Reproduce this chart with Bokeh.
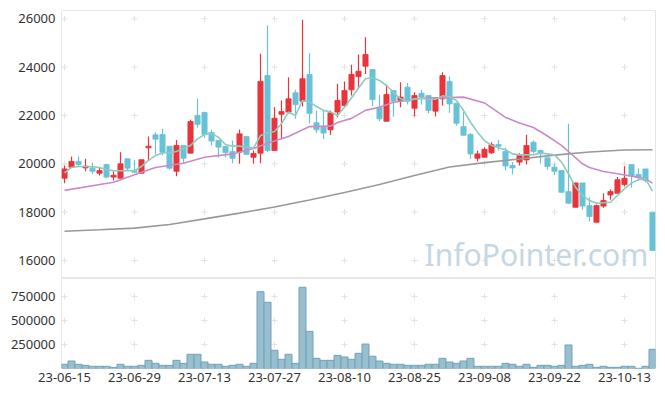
import numpy as np
from bokeh.plotting import figure
from bokeh.layouts import column
from bokeh.models import FixedTicker, NumeralTickFormatter, Label, Range1d
from bokeh.embed import file_html
from bokeh.resources import INLINE

# ---------------- data ----------------
opens = [19400, 19860, 20100, 19830, 19820, 19610, 19970, 19450, 19400, 20210,
         19720, 19610, 20660, 21200, 21210, 20730, 19690, 20760, 20440, 22000,
         22120, 21300, 20960, 20720, 20510, 20480, 21130, 20270, 20440, 23650,
         20550, 22050, 22140, 22940, 22590, 23700, 21700, 21510, 21410, 22140,
         22410, 23060, 23610, 24040, 23900, 22340, 21760, 23030, 22620, 23170,
         22300, 22920, 22830, 22180, 22690, 23410, 22510, 21540, 21210, 20230,
         20270, 20460, 20800, 20510, 19930, 20070, 20160, 20890, 20550, 20250,
         19860, 19720, 18850, 18200, 19210, 18270, 17580, 18250, 18710, 18780,
         19140, 19970, 19560, 19790, 18000]
highs = [19930, 20300, 20300, 20210, 20040, 19860, 20000, 19690, 20480, 20210,
         20170, 20170, 21130, 21310, 21450, 20730, 20990, 20760, 21820, 22690,
         22160, 21410, 20960, 20720, 20960, 21420, 21130, 20550, 24550, 25720,
         22340, 22620, 23580, 23060, 25960, 24580, 22210, 22210, 22210, 23310,
         23410, 24100, 24520, 25240, 23900, 22860, 23270, 23030, 23380, 23340,
         22960, 23060, 22830, 22690, 23790, 23610, 22510, 22140, 21270, 20550,
         20690, 20890, 20990, 20660, 20070, 20440, 21200, 20960, 20580, 20250,
         20000, 19720, 21660, 19220, 19210, 18620, 18320, 18780, 18940, 19450,
         19900, 19970, 19820, 19790, 18000]
lows = [19200, 19860, 19860, 19690, 19590, 19520, 19400, 19310, 19400, 19720,
        19610, 19600, 20140, 20390, 20340, 19750, 19490, 20000, 20440, 21490,
        21080, 20760, 20250, 20270, 20020, 20000, 20380, 20000, 20020, 20480,
        20550, 21030, 22140, 21860, 22370, 21680, 21280, 21030, 21200, 21930,
        22340, 22830, 23120, 23720, 22380, 21760, 21760, 21960, 22340, 22450,
        21960, 22450, 22090, 21960, 22410, 22110, 21580, 21180, 20210, 20100,
        20270, 20410, 20550, 19720, 19560, 19930, 19970, 20440, 20000, 19750,
        19540, 18820, 18340, 18200, 18100, 17620, 17580, 18180, 18510, 18780,
        19060, 19010, 19310, 19240, 16410]
closes = [19790, 20100, 19970, 19900, 19690, 19720, 19450, 19530, 20000, 19820,
          19650, 20170, 20730, 21020, 20480, 19820, 20760, 20230, 21750, 21630,
          21210, 20940, 20690, 20470, 20230, 21240, 20390, 20430, 23410, 20550,
          21890, 22160, 22690, 22450, 23520, 22090, 21410, 21270, 22110, 22620,
          23030, 23700, 23830, 24520, 22660, 21860, 22870, 22590, 22760, 22590,
          22830, 22760, 22210, 22690, 23650, 22480, 21680, 21180, 20410, 20410,
          20600, 20790, 20730, 19910, 19830, 20340, 20760, 20510, 20450, 19890,
          19690, 18820, 18370, 19210, 18250, 17820, 18270, 18480, 18850, 19340,
          19400, 19500, 19430, 19310, 16410]
volumes = [44000, 78000, 44000, 33000, 23000, 23000, 23000, 12000, 44000, 23000,
           23000, 33000, 85000, 54000, 33000, 33000, 85000, 54000, 148000, 148000,
           68000, 44000, 44000, 23000, 33000, 44000, 23000, 54000, 800000, 690000,
           190000, 96000, 148000, 54000, 846000, 387000, 106000, 85000, 85000, 137000,
           120000, 96000, 158000, 255000, 127000, 78000, 54000, 44000, 44000, 33000,
           33000, 33000, 44000, 44000, 106000, 68000, 54000, 78000, 106000, 23000,
           23000, 23000, 23000, 54000, 44000, 23000, 44000, 12000, 33000, 33000,
           23000, 33000, 245000, 23000, 33000, 44000, 12000, 23000, 12000, 12000,
           23000, 23000, 2000, 23000, 200000]
ma5 = [19620, 19850, 19890, 19890, 19880, 19850, 19760, 19710, 19710, 19720,
       19720, 19890, 20140, 20340, 20450, 20460, 20510, 20630, 20760, 21030,
       21210, 21250, 21100, 20800, 20730, 20730, 20690, 20650, 21170, 21270,
       21340, 21660, 22140, 22000, 22620, 22550, 22370, 22210, 22140, 22000,
       22340, 22720, 23140, 23520, 23560, 23450, 23240, 22960, 22690, 22590,
       22690, 22710, 22660, 22670, 22810, 22780, 22620, 22210, 21720, 21310,
       20960, 20760, 20660, 20580, 20410, 20370, 20370, 20380, 20440, 20410,
       20370, 20070, 19590, 19030, 18690, 18480, 18370, 18390, 18410, 18690,
       18970, 19200, 19340, 19380, 18870]
ma20_idx = [0, 7, 11, 13, 17, 20, 24, 27, 29, 32, 35, 38, 39, 41, 43, 45, 47, 49,
            51, 53, 55, 57, 60, 62, 63, 65, 67, 69, 71, 72, 74, 75, 77, 79, 81, 83, 84]
ma20 = [18900, 19240, 19650, 19850, 20020, 20270, 20410, 20630, 20850, 21130,
        21540, 21560, 21710, 21880, 22210, 22340, 22550, 22620, 22710, 22730,
        22740, 22760, 22520, 22120, 21920, 21690, 21500, 21150, 20760, 20510,
        20000, 19850, 19680, 19590, 19490, 19380, 19200]
ma120_idx = [0, 5, 10, 15, 20, 25, 30, 35, 40, 45, 50, 55, 60, 65, 70, 75, 80, 84]
ma120 = [17210, 17270, 17340, 17490, 17720, 17960, 18210, 18500, 18810, 19140,
         19520, 19870, 20050, 20200, 20360, 20490, 20570, 20580]
tick_idx = [0, 10, 20, 30, 40, 50, 60, 70, 80]
tick_labels = ["23-06-15", "23-06-29", "23-07-13", "23-07-27", "23-08-10",
               "23-08-25", "23-09-08", "23-09-22", "23-10-13"]
price_ticks = [16000, 18000, 20000, 22000, 24000, 26000]
vol_ticks = [250000, 500000, 750000]

# ---------------- styling ----------------
UP = "#e8343a"
DOWN = "#68c2d7"
FONT = "Noto Sans"
BORDER = "#e6e6e6"
GRIDMARK = "#e2e2e2"

idx = np.arange(len(opens))
o = np.array(opens); c = np.array(closes)
up = c >= o
xr = Range1d(-0.43, 84.43)

main = figure(width=657, height=278, output_backend="svg", toolbar_location=None,
              x_range=xr, y_range=Range1d(15254, 26344), x_axis_location=None,
              min_border_left=61, min_border_right=2, min_border_top=10,
              min_border_bottom=0)
main.background_fill_color = "white"
main.border_fill_color = "white"
main.outline_line_color = BORDER
main.grid.visible = False

# grid marks as small crosses
gx, gy = np.meshgrid(tick_idx, price_ticks)
main.scatter(gx.ravel(), gy.ravel(), marker="cross", size=6, line_color=GRIDMARK, line_width=1)

# watermark
main.add_layout(Label(x=83.4, y=16250, text="InfoPointer.com", text_align="right",
                      text_baseline="alphabetic", text_font=FONT, text_font_size="30px",
                      text_color="#c5d7e2"))

colors = np.where(up, UP, DOWN)
main.segment(idx, highs, idx, lows, color=colors, line_width=1.2)
main.vbar(x=idx, width=0.74, top=np.maximum(o, c), bottom=np.minimum(o, c),
          fill_color=colors, line_color=colors, line_width=0.8)

main.line(ma120_idx, ma120, line_color="#999999", line_width=1.6)
main.line(ma20_idx, ma20, line_color="#c98bc6", line_width=1.6)
main.line(idx, ma5, line_color="#8ccbbf", line_width=1.6)

ya = main.yaxis[0]
ya.ticker = FixedTicker(ticks=price_ticks)
ya.axis_line_color = None
ya.major_tick_line_color = None
ya.minor_tick_line_color = None
ya.major_tick_out = 0
ya.major_label_standoff = 6
ya.major_label_text_font = FONT
ya.major_label_text_font_size = "13px"
ya.major_label_text_color = "#333333"

vol = figure(width=657, height=110, output_backend="svg", toolbar_location=None,
             x_range=xr, y_range=Range1d(0, 937500),
             min_border_left=61, min_border_right=2, min_border_top=0,
             min_border_bottom=20)
vol.outline_line_color = BORDER
vol.grid.visible = False
vx, vy = np.meshgrid(tick_idx, vol_ticks)
vol.scatter(vx.ravel(), vy.ravel(), marker="cross", size=6, line_color=GRIDMARK, line_width=1)
vol.vbar(x=idx, width=1.0, top=volumes, bottom=0, fill_color="#97bfd0",
         line_color="#74a2b7", line_width=1)

vy_ax = vol.yaxis[0]
vy_ax.ticker = FixedTicker(ticks=vol_ticks)
vy_ax.formatter = NumeralTickFormatter(format="0")
for ax in (vy_ax, vol.xaxis[0]):
    ax.axis_line_color = None
    ax.major_tick_line_color = None
    ax.minor_tick_line_color = None
    ax.major_tick_out = 0
    ax.major_label_text_font = FONT
    ax.major_label_text_font_size = "13px"
    ax.major_label_text_color = "#333333"
vy_ax.major_label_standoff = 6
xa = vol.xaxis[0]
xa.ticker = FixedTicker(ticks=tick_idx)
xa.major_label_overrides = {t: l for t, l in zip(tick_idx, tick_labels)}
xa.major_label_standoff = 4

layout = column(main, vol, spacing=0)
open("out.html", "w").write(file_html(layout, INLINE))
